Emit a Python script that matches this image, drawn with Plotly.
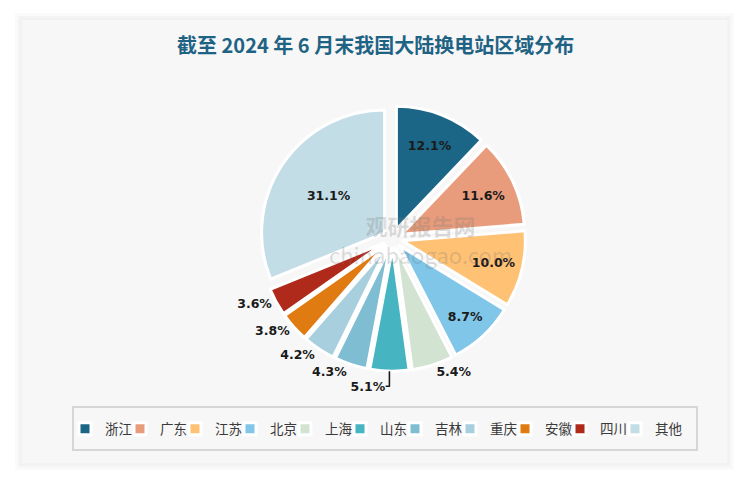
import plotly.graph_objects as go

regions = ["浙江", "广东", "江苏", "北京", "上海", "山东", "吉林", "重庆", "安徽", "四川", "其他"]
shares = [12.1, 11.6, 10.0, 8.7, 5.4, 5.1, 4.3, 4.2, 3.8, 3.6, 31.1]
colors = ["#1b6587", "#e89c7c", "#ffc174", "#80c6e8", "#d3e3d1", "#46b4c1",
          "#7fbed2", "#a8cfdd", "#e07b12", "#b02a1c", "#c3dde7"]
positions = ["inside", "inside", "inside", "inside", "outside", "outside",
             "outside", "outside", "outside", "outside", "inside"]

W, H = 750, 483
OFF = 8  # page body margin offset
labels_txt = [f"{v:.1f}%" for v in shares]


def px(x):
    return (x - OFF) / W


def py(y):
    return 1 - (y - OFF) / H


fig = go.Figure()
fig.add_trace(go.Pie(
    labels=regions, values=shares, text=labels_txt, textinfo="text",
    textposition=positions, sort=False, direction="clockwise", rotation=0,
    pull=0.08, marker=dict(colors=colors, line=dict(color="white", width=3)),
    textfont=dict(family="DejaVu Sans", size=12.5, color="#1a1a1a", weight="bold"),
    insidetextorientation="horizontal",
    domain=dict(x=[0.333, 0.693], y=[0.248, 0.798]),
    hoverinfo="label+percent",
))
# invisible spacer entry so the last legend label is not clipped
fig.add_trace(go.Scatter(x=[None], y=[None], name=" ", mode="markers",
                         marker=dict(color="rgba(0,0,0,0)", size=1),
                         showlegend=True, hoverinfo="skip"))

# soft card shadow + card background
fig.add_shape(type="rect", xref="paper", yref="paper",
              x0=px(15), x1=px(734), y0=py(470), y1=py(13),
              fillcolor="#fafafa", line=dict(width=0), layer="below")
fig.add_shape(type="rect", xref="paper", yref="paper",
              x0=px(18), x1=px(731), y0=py(467), y1=py(16),
              fillcolor="#f4f4f4", line=dict(width=0), layer="below")
fig.add_shape(type="rect", xref="paper", yref="paper",
              x0=px(21), x1=px(728), y0=py(464), y1=py(19),
              fillcolor="#f7f7f7", line=dict(color="#eeeeee", width=1), layer="below")
# legend frame
fig.add_shape(type="rect", xref="paper", yref="paper",
              x0=px(73), x1=px(697), y0=py(450), y1=py(407),
              fillcolor="rgba(0,0,0,0)", line=dict(color="#d6d6d6", width=2), layer="below")

fig.add_annotation(text="<b>截至 2024 年 6 月末我国大陆换电站区域分布</b>", xref="paper", yref="paper",
                   x=px(375), y=py(45), showarrow=False, xanchor="center", yanchor="middle",
                   font=dict(family="Noto Sans CJK SC", size=20, color="#1f6384"))

fig.add_annotation(text="<b>观研报告网</b><br>chinabaogao.com", xref="paper", yref="paper",
                   x=px(420), y=py(240), showarrow=False,
                   font=dict(family="Noto Sans CJK SC", size=22, color="rgba(120,120,120,0.25)"))

fig.update_layout(
    width=W, height=H, margin=dict(l=0, r=0, t=0, b=0, autoexpand=False),
    paper_bgcolor="white", plot_bgcolor="rgba(0,0,0,0)",
    xaxis=dict(visible=False), yaxis=dict(visible=False),
    showlegend=True,
    legend=dict(orientation="h", x=px(65), xanchor="left", y=py(429), yanchor="middle",
                font=dict(family="Noto Sans CJK SC", size=13.5, color="#3a3a3a"),
                borderwidth=0, bgcolor="rgba(0,0,0,0)",
                entrywidth=10, itemwidth=30, traceorder="normal"),
)

fig.write_html("out.html")
